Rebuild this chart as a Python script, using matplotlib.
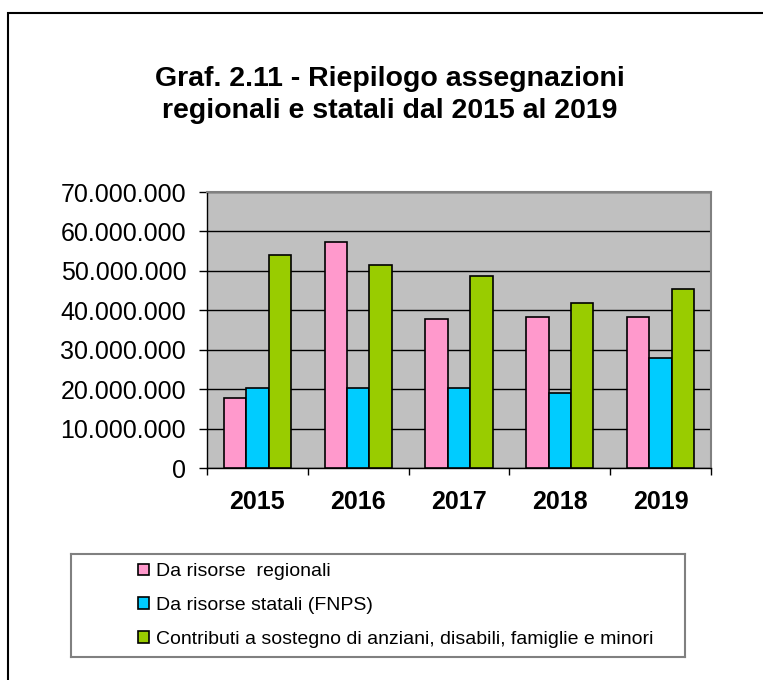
import numpy as np
import matplotlib
matplotlib.use("Agg")
import matplotlib.pyplot as plt
from matplotlib.patches import Patch, Rectangle
from matplotlib.ticker import FuncFormatter

plt.rcParams['font.family'] = ['Liberation Sans', 'DejaVu Sans']

# Data
years = ["2015", "2016", "2017", "2018", "2019"]
regionali = [17.8e6, 57.3e6, 37.9e6, 38.3e6, 38.3e6]
statali = [20.2e6, 20.2e6, 20.2e6, 19.1e6, 28.0e6]
contributi = [54.0e6, 51.6e6, 48.7e6, 41.8e6, 45.5e6]
series_labels = ["Da risorse  regionali",
                 "Da risorse statali (FNPS)",
                 "Contributi a sostegno di anziani, disabili, famiglie e minori"]
colors = ["#FF99CC", "#00CCFF", "#99CC00"]

W, H = 763, 680
fig = plt.figure(figsize=(W / 100, H / 100), dpi=100)

# outer frame (only top and left visible in the reference)
fig.patches.append(Rectangle((8 / W, -0.1), 1.2, 1 - 13 / H + 0.1, transform=fig.transFigure,
                             fill=False, edgecolor="black", linewidth=1.5))

# title
fig.text(390 / W, 1 - 95 / H, "Graf. 2.11 - Riepilogo assegnazioni\nregionali e statali dal 2015 al 2019",
         ha="center", va="center", fontsize=20.5, fontweight="bold", linespacing=1.32)

ax = fig.add_axes([207 / W, 1 - 468 / H, 504 / W, 276 / H])
ax.set_facecolor("#C0C0C0")

x = np.arange(len(years))
bw = 0.222
for i, (vals, col) in enumerate(zip([regionali, statali, contributi], colors)):
    ax.bar(x + (i - 1) * bw, vals, width=bw, color=col, edgecolor="black", linewidth=1.2, zorder=3)

ax.set_xlim(-0.5, len(years) - 0.5)
ax.set_ylim(0, 70e6)
ax.set_yticks(np.arange(0, 70e6 + 1, 10e6))
ax.yaxis.set_major_formatter(FuncFormatter(lambda v, p: f"{int(v):,}".replace(",", ".")))
ax.tick_params(axis="y", direction="out", length=6, width=1, labelsize=18, pad=9)
ax.set_xticks(x)
ax.set_xticklabels(years, fontsize=18, fontweight="bold")
ax.set_xticks(np.arange(-0.5, len(years), 1), minor=True)
ax.tick_params(axis="x", which="major", length=0, pad=16)
ax.tick_params(axis="x", which="minor", direction="out", length=5, width=1)
ax.yaxis.grid(True, color="black", linewidth=1, zorder=1)
ax.set_axisbelow(True)
for s in ["top", "right"]:
    ax.spines[s].set_color("#808080")
    ax.spines[s].set_linewidth(1.5)
for s in ["left", "bottom"]:
    ax.spines[s].set_color("black")
    ax.spines[s].set_linewidth(1)

# legend box
lax = fig.add_axes([71 / W, 1 - 657 / H, 614 / W, 103 / H])
lax.set_xticks([])
lax.set_yticks([])
for s in lax.spines.values():
    s.set_color("#808080")
    s.set_linewidth(1.5)
handles = [Patch(facecolor=c, edgecolor="black", linewidth=1.2) for c in colors]
lax.legend(handles, series_labels, loc="center left", bbox_to_anchor=(67 / 614, 0.5),
           frameon=False, fontsize=14, handlelength=0.55, handleheight=0.55,
           handletextpad=0.4, labelspacing=0.85, borderpad=0, borderaxespad=0)

fig.savefig("out.png", dpi=100)
